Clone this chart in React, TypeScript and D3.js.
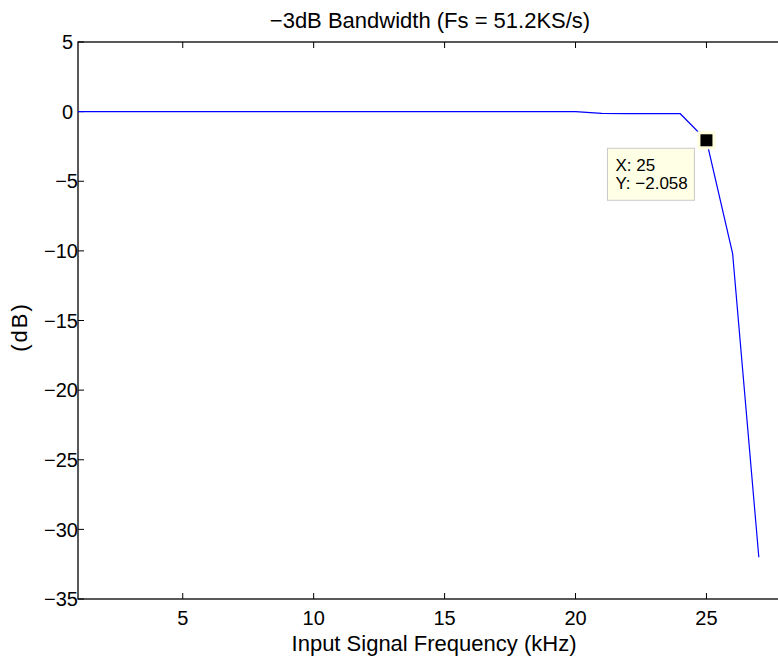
import React, { useRef, useEffect } from 'react';
import * as d3 from 'd3';

// frequency (kHz) and gain (dB)
const freqs = [1, 2, 3, 4, 5, 6, 7, 8, 9, 10, 11, 12, 13, 14, 15, 16, 17, 18, 19, 20, 21, 22, 23, 24, 25, 26, 27];
const gains = [0, 0, 0, 0, 0, 0, 0, 0, 0, 0, 0, 0, 0, 0, 0, 0, 0, 0, 0, 0, -0.13, -0.14, -0.14, -0.15, -2.058, -10.2, -32.0];
const xTicks = [5, 10, 15, 20, 25];
const yTicks = [5, 0, -5, -10, -15, -20, -25, -30, -35];
const tipIndex = 24;

const W = 778;
const H = 658;
const margin = { top: 42, right: -7, bottom: 59, left: 78 };

const App = () => {
  const svgRef = useRef<SVGSVGElement>(null);

  useEffect(() => {
    const root = d3.select(svgRef.current);
    root.selectAll('*').remove();

    const width = W - margin.left - margin.right;
    const height = H - margin.top - margin.bottom;
    const font = 'Liberation Sans, Arial, Helvetica, sans-serif';
    const fmt = (v: number) => String(v).replace('-', '\u2212');

    const x = d3.scaleLinear().domain([1, 28]).range([0, width]);
    const y = d3.scaleLinear().domain([-35, 5]).range([height, 0]);

    const g = root.append('g').attr('transform', `translate(${margin.left},${margin.top})`);

    // axes box
    g.append('rect')
      .attr('x', 0)
      .attr('y', 0)
      .attr('width', width)
      .attr('height', height)
      .attr('fill', 'white')
      .attr('stroke', '#000')
      .attr('stroke-width', 1.3);

    const tl = 6;
    // x ticks (bottom and top, inward)
    xTicks.forEach((t) => {
      g.append('line').attr('x1', x(t)).attr('x2', x(t)).attr('y1', height).attr('y2', height - tl).attr('stroke', '#000');
      g.append('line').attr('x1', x(t)).attr('x2', x(t)).attr('y1', 0).attr('y2', tl).attr('stroke', '#000');
      g.append('text')
        .attr('x', x(t))
        .attr('y', height + 26)
        .attr('text-anchor', 'middle')
        .attr('font-family', font)
        .attr('font-size', 20)
        .text(fmt(t));
    });

    // y ticks (left and right, inward)
    yTicks.forEach((t) => {
      g.append('line').attr('x1', 0).attr('x2', tl).attr('y1', y(t)).attr('y2', y(t)).attr('stroke', '#000');
      g.append('line').attr('x1', width).attr('x2', width - tl).attr('y1', y(t)).attr('y2', y(t)).attr('stroke', '#000');
      g.append('text')
        .attr('x', t < 0 ? 0 : -5)
        .attr('y', y(t))
        .attr('dy', '0.36em')
        .attr('text-anchor', 'end')
        .attr('font-family', font)
        .attr('font-size', 20)
        .text(fmt(t));
    });

    // data line
    const data = freqs.map((f, i) => ({ f, v: gains[i] }));
    const line = d3
      .line<{ f: number; v: number }>()
      .x((d) => x(d.f))
      .y((d) => y(d.v));

    g.append('path')
      .datum(data)
      .attr('d', line)
      .attr('fill', 'none')
      .attr('stroke', '#0000ff')
      .attr('stroke-width', 1.2);

    // data tip
    const tip = data[tipIndex];
    const px = x(tip.f);
    const py = y(tip.v);
    g.append('rect')
      .attr('x', px - 9)
      .attr('y', py - 9)
      .attr('width', 18)
      .attr('height', 18)
      .attr('fill', '#ffffe0');
    g.append('rect')
      .attr('x', px - 6)
      .attr('y', py - 6)
      .attr('width', 12)
      .attr('height', 12)
      .attr('fill', '#000');

    const bx = px - 99;
    const by = py + 8;
    g.append('rect')
      .attr('x', bx)
      .attr('y', by)
      .attr('width', 87)
      .attr('height', 52)
      .attr('fill', '#ffffe6')
      .attr('stroke', '#c8c8c8')
      .attr('stroke-width', 1);
    g.append('text')
      .attr('x', bx + 8)
      .attr('y', by + 23)
      .attr('font-family', font)
      .attr('font-size', 17)
      .text(`X: ${tip.f}`);
    g.append('text')
      .attr('x', bx + 8)
      .attr('y', by + 41)
      .attr('font-family', font)
      .attr('font-size', 17)
      .text(`Y: ${fmt(tip.v)}`);

    // title and labels
    root.append('text')
      .attr('x', 430)
      .attr('y', 27.5)
      .attr('text-anchor', 'middle')
      .attr('font-family', font)
      .attr('font-size', 22)
      .text('\u22123dB Bandwidth (Fs = 51.2KS/s)');

    root.append('text')
      .attr('x', 434)
      .attr('y', 651)
      .attr('text-anchor', 'middle')
      .attr('font-family', font)
      .attr('font-size', 22)
      .text('Input Signal Frequency (kHz)');

    root.append('text')
      .attr('transform', 'translate(27,327) rotate(-90)')
      .attr('text-anchor', 'middle')
      .attr('font-family', font)
      .attr('font-size', 22)
      .attr('letter-spacing', 2)
      .text('(dB)');
  }, []);

  return (
    <svg
      ref={svgRef}
      width={W}
      height={H}
      style={{ position: 'absolute', left: 0, top: 0, background: 'white' }}
    />
  );
};

export default App;
